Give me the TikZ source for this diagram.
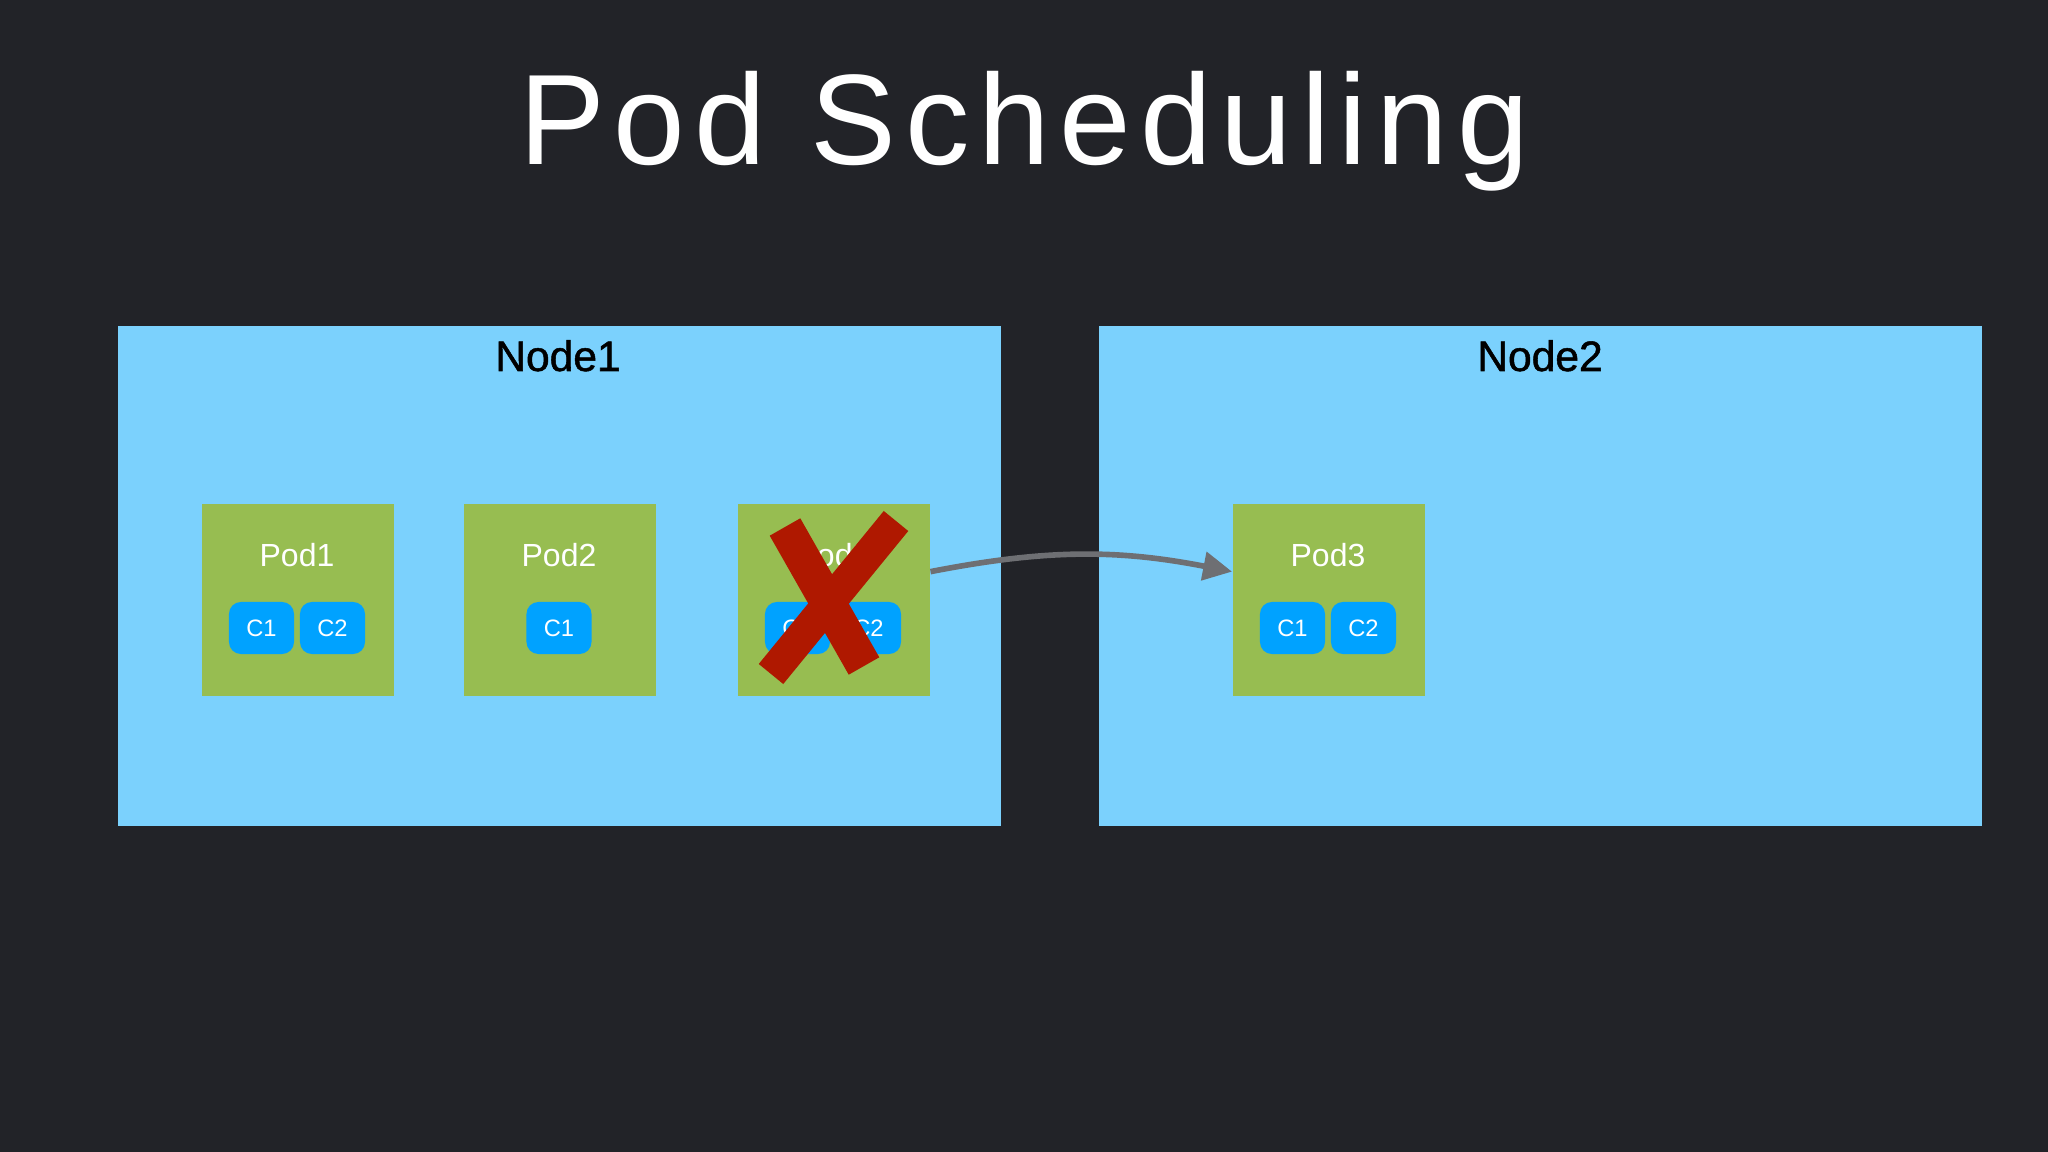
\documentclass[tikz,border=0pt]{standalone}
\usepackage{fontspec}
\setmainfont{Liberation Sans}
\newfontfamily\titlefont[LetterSpace=7]{Liberation Sans}
\newfontfamily\hostfont[FakeBold=1.2]{Liberation Sans}
\usetikzlibrary{arrows.meta}
\definecolor{bg}{HTML}{222328}
\definecolor{nodeblue}{HTML}{7BD1FD}
\definecolor{podgreen}{HTML}{97BD51}
\definecolor{cblue}{HTML}{00A2FF}
\definecolor{arrowgray}{HTML}{6E6F73}
\definecolor{xred}{HTML}{AF1800}
\begin{document}
\begin{tikzpicture}[x=0.01cm,y=-0.01cm,
 hostbox/.style={fill=nodeblue, draw=none, minimum width=8.83cm, minimum height=5.0cm, inner sep=0, anchor=north west},
 hostlabel/.style={font=\hostfont\fontsize{12.1}{14}\selectfont, text=black, anchor=base},
 podbox/.style={fill=podgreen, minimum width=1.92cm, minimum height=1.92cm, inner sep=0, anchor=north west},
 podlabel/.style={font=\fontsize{9.1}{11}\selectfont, text=white, anchor=base},
 ctr/.style={fill=cblue, rounded corners=3.4pt, minimum width=0.65cm, minimum height=0.52cm, inner sep=0, text=white, font=\fontsize{6.75}{8}\selectfont, text height=4.8pt, text depth=0pt},
 move/.style={draw=arrowgray, line width=1.6pt, -{Triangle[length=8.2pt,width=8pt]}},
 cross/.style={draw=xred, line cap=butt}]
\fill[bg] (0,0) rectangle (2048,1152);
\useasboundingbox (0,0) rectangle (2048,1152);

\node[anchor=base, font=\titlefont\fontsize{36.6}{40}\selectfont, text=white] (title) at (1024,165) {Pod Scheduling};

\node[hostbox] (node1) at (117,325) {};
\node[hostbox] (node2) at (1098,325) {};
\node[hostlabel] (node1label) at (558,371) {Node1};
\node[hostlabel] (node2label) at (1540,371) {Node2};

% Pod1
\node[podbox] (pod1) at (201,503) {};
\node[podlabel] (pod1label) at (297,567) {Pod1};
\node[ctr] (pod1c1) at (261.5,628) {C1};
\node[ctr] (pod1c2) at (332.5,628) {C2};

% Pod2
\node[podbox] (pod2) at (463,503) {};
\node[podlabel] (pod2label) at (559,567) {Pod2};
\node[ctr] (pod2c1) at (559,628) {C1};

% Pod3 (old)
\node[podbox] (pod3a) at (737,503) {};
\node[podlabel] (pod3alabel) at (833,567) {Pod3};
\node[ctr] (pod3ac1) at (797.5,628) {C1};
\node[ctr] (pod3ac2) at (868.5,628) {C2};

% Pod3 (new)
\node[podbox] (pod3b) at (1232,503) {};
\node[podlabel] (pod3blabel) at (1328,567) {Pod3};
\node[ctr] (pod3bc1) at (1292.5,628) {C1};
\node[ctr] (pod3bc2) at (1363.5,628) {C2};

% move arrow
\draw[move] ([yshift=8pt]pod3a.east) to[bend left=11] ([yshift=8pt]pod3b.west);

% red cross
\draw[cross, line width=10pt] (785,527) -- (864,666);
\draw[cross, line width=9pt] (896,521) -- (771,674);
\end{tikzpicture}
\end{document}
